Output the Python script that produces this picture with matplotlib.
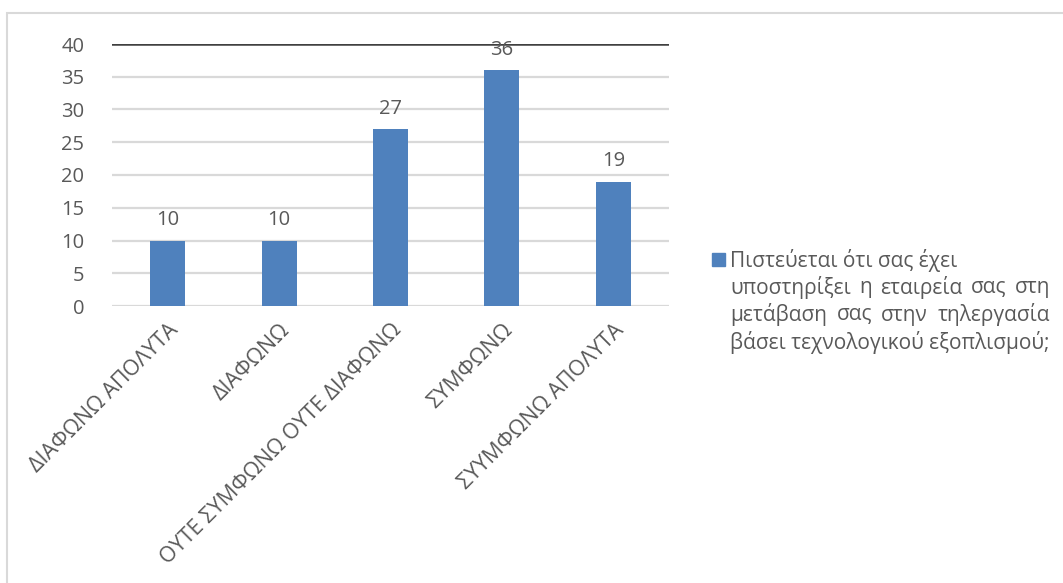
import matplotlib.pyplot as plt
from matplotlib.patches import Rectangle

plt.rcParams['font.family'] = ['Open Sans', 'DejaVu Sans']

categories = ["ΔΙΑΦΩΝΩ ΑΠΟΛΥΤΑ", "ΔΙΑΦΩΝΩ", "ΟΥΤΕ ΣΥΜΦΩΝΩ ΟΥΤΕ ΔΙΑΦΩΝΩ",
              "ΣΥΜΦΩΝΩ", "ΣΥΥΜΦΩΝΩ ΑΠΟΛΥΤΑ"]
values = [10, 10, 27, 36, 19]
yticks = [0, 5, 10, 15, 20, 25, 30, 35, 40]
legend_lines = ["Πιστεύεται ότι σας έχει",
                "υποστηρίξει η εταιρεία σας στη",
                "μετάβαση σας στην τηλεργασία",
                "βάσει τεχνολογικού εξοπλισμού;"]

bar_color = "#4F81BD"
text_color = "#595959"
W, H = 1063, 583

fig = plt.figure(figsize=(W / 100, H / 100), dpi=100)
ax = fig.add_axes([112 / W, 1 - 306 / H, 557 / W, 262 / H])

x = range(len(values))
ax.bar(x, values, width=0.315, color=bar_color, zorder=3)
for xi, v in zip(x, values):
    ax.text(xi, v + 1.6, str(v), ha="center", va="bottom",
            fontsize=14.5, color=text_color, zorder=4)

ax.set_xlim(-0.5, len(values) - 0.5)
ax.set_ylim(0, 40)
ax.set_yticks(yticks)
ax.set_yticklabels([str(t) for t in yticks], fontsize=14.5, color=text_color)
ax.yaxis.grid(True, color="#D9D9D9", linewidth=1.6, zorder=0)
ax.axhline(40, color="#404040", linewidth=1.8, zorder=2)
ax.tick_params(axis="y", length=0, pad=20)
ax.tick_params(axis="x", length=0, pad=10)
ax.set_xticks(list(x))
ax.set_xticklabels(categories, rotation=45, ha="right", rotation_mode="anchor",
                   fontsize=15.5, color=text_color)
for s in ax.spines.values():
    s.set_visible(False)

# outer frame, cut by the right and bottom edges
fig.patches.append(Rectangle((7 / W, -0.1), 1.2, 1 - 13 / H + 0.1,
                             transform=fig.transFigure, fill=False,
                             edgecolor="#D9D9D9", linewidth=1.5))

# legend: marker plus justified text block
fig.patches.append(Rectangle((712 / W, 1 - 266 / H), 13 / W, 13 / H,
                             transform=fig.transFigure, color=bar_color))
renderer = fig.canvas.get_renderer()
left, right = 730, 1050
leg_size = 15
for i, line in enumerate(legend_lines):
    y = 1 - (261 + 27 * i) / H
    words = line.split()
    if i in (0, 3):
        fig.text(left / W, y, line, fontsize=leg_size, color=text_color,
                 va="center", ha="left")
        continue
    widths = []
    for w in words:
        t = fig.text(0, 0, w, fontsize=leg_size)
        widths.append(t.get_window_extent(renderer).width)
        t.remove()
    gap = (right - left - sum(widths)) / (len(words) - 1)
    pos = left
    for w, wd in zip(words, widths):
        fig.text(pos / W, y, w, fontsize=leg_size, color=text_color,
                 va="center", ha="left")
        pos += wd + gap

fig.savefig("out.png", dpi=100)
